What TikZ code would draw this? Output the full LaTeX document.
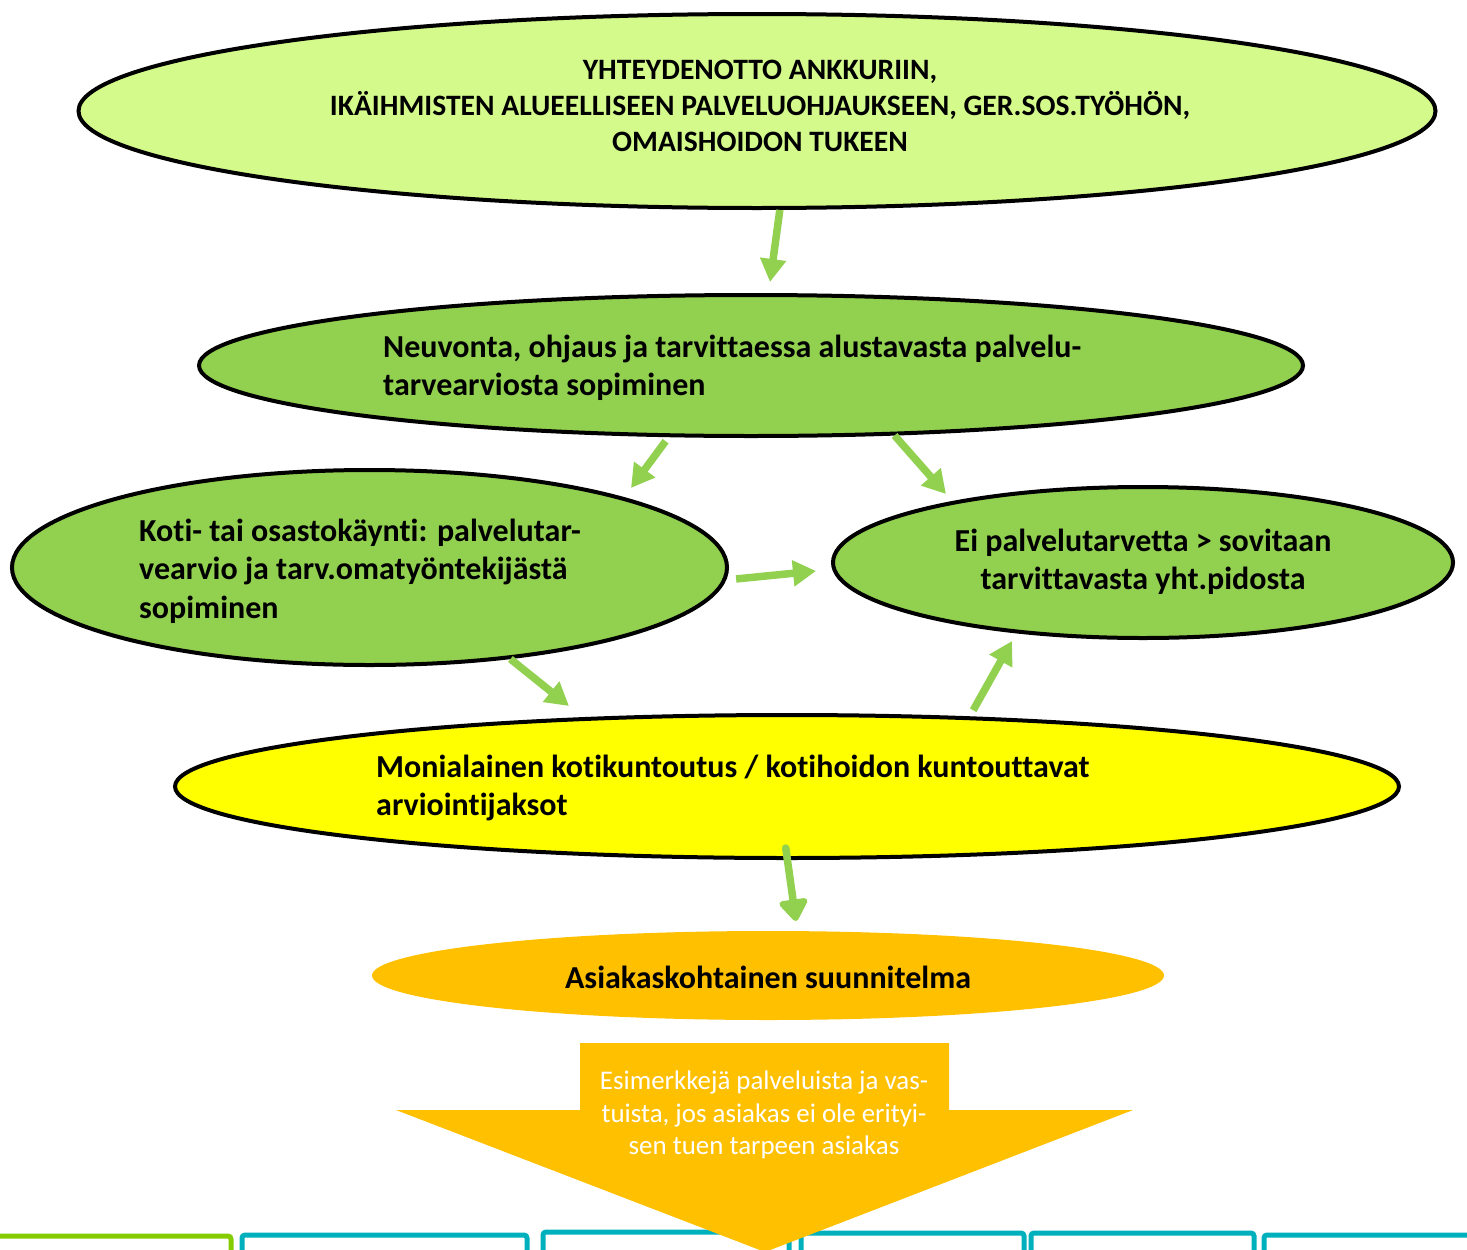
\documentclass[tikz,border=0pt]{standalone}
\usepackage{fontspec}
\setmainfont{Carlito}[Ligatures=NoCommon]
\usetikzlibrary{shapes.geometric,arrows.meta}
\definecolor{lgreen}{HTML}{D5FA8C}
\definecolor{mgreen}{HTML}{92D050}
\definecolor{ylw}{HTML}{FFFF00}
\definecolor{orng}{HTML}{FFC000}
\definecolor{tealb}{HTML}{00B0BC}
\definecolor{bgreen}{HTML}{84CC00}
\begin{document}
\begin{tikzpicture}[x=1pt,y=-1pt,
  oval/.style={ellipse, draw=black, line width=4pt, inner sep=0pt},
  arr/.style={draw=mgreen, line width=7.5pt, -{Triangle[length=23pt,width=25pt]}},
  txt/.style={font=\bfseries\fontsize{32pt}{38.5pt}\selectfont, align=left, inner sep=0pt},
  boxo/.style={line width=5pt, rounded corners=3pt}]
\useasboundingbox (0,0) rectangle (1467,1250);
\clip (0,0) rectangle (1467,1250);

% bottom boxes
\draw[boxo, bgreen] (-10,1236) -- (231,1236) -- (231,1270);
\foreach \xa/\xb/\yt in {242/527/1235, 543/789/1232, 801/1024/1233, 1031/1254/1233, 1264/1480/1235}{
  \draw[boxo, tealb] (\xa,1270) -- (\xa,\yt) -- (\xb,\yt) -- (\xb,1270);
}

% ellipses
\node[oval, fill=lgreen, minimum width=1357pt, minimum height=194pt] (top) at (757,111) {};
\node[oval, fill=mgreen, minimum width=1104pt, minimum height=141pt] (neu) at (751,365.5) {};
\node[oval, fill=mgreen, minimum width=715pt, minimum height=195pt] (koti) at (369.5,567.5) {};
\node[oval, fill=mgreen, minimum width=620pt, minimum height=151pt] (ei) at (1143,562.5) {};
\node[oval, fill=ylw, minimum width=1224pt, minimum height=143pt] (moni) at (787,786.5) {};
\node[ellipse, fill=orng, inner sep=0pt, minimum width=792pt, minimum height=89pt] (asiak) at (768,975.5) {};

% texts
\node[font=\bfseries\fontsize{29.6pt}{36pt}\selectfont, align=center, inner sep=0pt] (ttop) at (760,106)
  {YHTEYDENOTTO ANKKURIIN,\\IKÄIHMISTEN ALUEELLISEEN PALVELUOHJAUKSEEN, GER.SOS.TYÖHÖN,\\OMAISHOIDON TUKEEN};
\node[txt, anchor=west] (tneu) at (383,368)
  {Neuvonta, ohjaus ja tarvittaessa alustavasta palvelu-\\tarvearviosta sopiminen};
\node[txt, anchor=west] (tkoti) at (139,571)
  {Koti- tai osastokäynti: palvelutar-\\vearvio ja tarv.omatyöntekijästä\\sopiminen};
\node[txt, align=center] (tei) at (1143,562)
  {Ei palvelutarvetta > sovitaan\\tarvittavasta yht.pidosta};
\node[txt, anchor=west] (tmoni) at (376,788)
  {Monialainen kotikuntoutus / kotihoidon kuntouttavat\\arviointijaksot};
\node[txt] (tasiak) at (768,977) {Asiakaskohtainen suunnitelma};

% big arrow
\fill[orng] (580,1043) -- (949,1043) -- (949,1110) -- (1133,1110) -- (765,1252)
  -- (396,1110) -- (580,1110) -- cycle;
\node[text=white, font=\fontsize{26.9pt}{32.5pt}\selectfont, align=center, inner sep=0pt] (tesim) at (764,1115)
  {Esimerkkejä palveluista ja vas-\\tuista, jos asiakas ei ole erityi-\\sen tuen tarpeen asiakas};

% connectors
\coordinate (e1) at (770,282);
\coordinate (e2) at (631,488);
\coordinate (e3) at (946,494);
\coordinate (e4) at (816,571);
\coordinate (e5) at (569,706);
\coordinate (e6) at (1012,641);
\coordinate (e7) at (796,921);
\draw[arr] (top.-77) -- (e1);
\draw[arr, shorten <=5pt] (neu.-139) -- (e2);
\draw[arr] (neu.-26) -- (e3);
\draw[arr, shorten <=10pt] (koti.-2) -- (e4);
\draw[arr] (koti.-33) -- (e5);
\draw[arr, shorten <=7pt] (moni.21) -- (e6);
\draw[arr, line cap=round, -{Triangle[round,length=24pt,width=32pt]}] ([yshift=12pt]moni.-91) -- (e7);
\end{tikzpicture}
\end{document}
